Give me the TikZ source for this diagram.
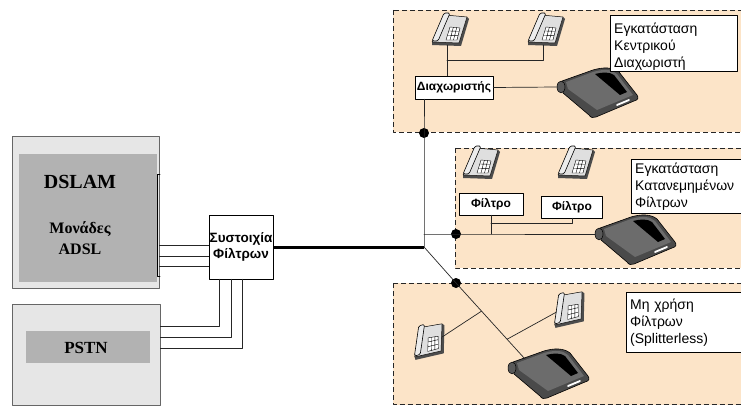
\documentclass[tikz,border=0pt]{standalone}
\usepackage{fontspec}
\setmainfont{Liberation Sans}
\newfontfamily\unitfont{Liberation Serif}
\usetikzlibrary{calc}

\definecolor{peach}{RGB}{252,228,200}
\definecolor{cabinet}{RGB}{230,230,230}
\definecolor{unitgray}{RGB}{178,178,178}
\definecolor{case}{RGB}{74,74,74}
\definecolor{casetop}{RGB}{108,108,108}

\begin{document}
\begin{tikzpicture}[x=1pt, y=-1pt, line cap=round, line join=round,
    site/.style={draw=black!85, fill=peach, dash pattern=on 5pt off 3pt, line width=0.8pt, line cap=butt},
    note/.style={draw, fill=white, anchor=north west, align=left, inner xsep=4pt, inner ysep=0.5pt, font=\fontsize{14}{17}\selectfont},
    filt/.style={draw, fill=white, font=\bfseries\fontsize{12}{15}\selectfont, inner sep=1pt, align=center},
    wire/.style={black!85, line width=0.7pt},
    trunk/.style={line width=3pt, line cap=butt},
    dot/.style={circle, fill=black, inner sep=0pt, minimum size=10pt},
    phone/.pic={
      \fill[black!70] (-17,12) -- (10,13) -- (18,-13) -- (20,-11) -- (12,16) -- (-17,15) -- cycle;
      \draw[fill=gray!25, line width=0.5pt] (-4,-15) -- (18,-13) -- (10,13) -- (-17,12) -- cycle;
      \draw[fill=white, line width=0.4pt] (1,-3) -- (11,-2) -- (8,10) -- (-3,10) -- cycle;
      \draw[line width=0.4pt] (0,1) -- (10,1.3) (-1.2,5.5) -- (8.9,5.7) (4.3,-2.7) -- (1,10) (7.7,-2.3) -- (4.5,10);
      \draw[fill=gray!15, line width=0.6pt, rounded corners=1.5pt] (-5,-17) -- (1,-17) -- (-11,11) -- (-17,11) -- cycle;
      \coordinate (-jack) at (-2,15);
      \coordinate (-east) at (14,0);
      \coordinate (-west) at (-12,0);
    },
    modem/.pic={
      \draw[fill=case, line width=0.6pt] (5,-6) -- (36,-17) .. controls (46,-20) and (56,-20) .. (62,-15) -- (80,8) .. controls (82,11) and (81,13) .. (77,14) -- (39,30) .. controls (36,31) and (34,31) .. (32,28) -- (6,6) -- cycle;
      \fill[casetop] (9,-5) -- (36,-15) .. controls (46,-18) and (55,-18) .. (60,-13) -- (76,8) -- (40,23) -- (11,2) -- cycle;
      \fill[black] (38,-13) .. controls (46,-15) and (53,-15) .. (57,-12) -- (70,5) -- (63,8) -- cycle;
      \draw[white, line width=1.8pt] (60,18) -- (72,13);
      \draw[fill=gray!70!black, line width=0.5pt] (4,0) ellipse [x radius=4, y radius=6];
      \coordinate (-jack) at (0,0);
      \coordinate (-top) at (17,-9);
    }]
  \useasboundingbox (0,0) rectangle (741,406);

  % customer sites
  \draw[site] (393,10) rectangle (750,132);
  \draw[site] (455,148) rectangle (750,268);
  \draw[site] (393,283) rectangle (750,404.5);

  % exchange side
  \node[draw=black!60, fill=cabinet, minimum width=147pt, minimum height=152pt, anchor=north west] (dslam) at (12,136) {};
  \node[fill=unitgray, minimum width=138pt, minimum height=128pt, anchor=north west] (adsl) at (19,154) {};
  \node[font=\unitfont\bfseries\fontsize{20}{24}\selectfont] (dslamtxt) at (80,181.5) {DSLAM};
  \node[font=\unitfont\bfseries\fontsize{16}{21}\selectfont, align=center] (adsltxt) at (80,238.5) {Μονάδες\\ADSL};
  \draw[line width=0.8pt] (160,174) -- (157,174) -- (157,276) -- (160,276);

  \node[draw=black!60, fill=cabinet, minimum width=148pt, minimum height=101pt, anchor=north west] (pstn) at (12,304) {};
  \node[fill=unitgray, minimum width=124pt, minimum height=32pt, anchor=north west] (pstnunit) at (26,331) {};
  \node[font=\unitfont\bfseries\fontsize{17}{20}\selectfont] (pstntxt) at (86,347.5) {PSTN};

  \node[filt, minimum width=64pt, minimum height=64pt, inner sep=0pt, font=\bfseries\fontsize{13.5}{16}\selectfont] (bank) at (241,247) {Συστοιχία\\Φίλτρων};

  \foreach \y in {245,256,266}
    \draw[wire] (dslam.east |- 0,\y) -- (bank.west |- 0,\y);
  \foreach \x/\y in {219/326, 231/337, 242/348}
    \draw[wire] (bank.south -| \x,0) |- (pstn.east |- 0,\y);

  % local loop
  \coordinate (hub) at (424,247);
  \draw[trunk] (bank.east) -- (hub);
  \node[dot] (dtop) at (424,133) {};
  \node[dot] (dmid) at (456,234) {};
  \node[dot] (dbot) at (456,283) {};

  % central splitter
  \node[filt, minimum width=78pt, minimum height=23pt] (split) at (454,87.5) {Διαχωριστής};
  \pic (tel1) at (449,30) {phone};
  \pic (tel2) at (545,30) {phone};
  \pic (box1) at (557,87) {modem};
  \coordinate (tee1) at (447,60);
  \draw[wire] (tel1-jack) -- (tel1-jack |- split.north);
  \draw[wire] (tel2-jack) |- (tee1);
  \draw[wire] (split.east) -- (box1-jack);
  \draw[wire] (hub) -- (dtop.center) -- (split.south -| dtop);
  \node[note, text width=119pt, minimum height=55pt, execute at begin node={\rule{0pt}{18pt}}] (lab1) at (610,15) {Εγκατάσταση\\Κεντρικού\\Διαχωριστή};

  % distributed filters
  \pic (tel3) at (480,163) {phone};
  \pic (tel4) at (575,163) {phone};
  \node[filt, minimum width=64pt, minimum height=22pt] (filt1) at (491,204) {Φίλτρο};
  \node[filt, minimum width=61pt, minimum height=22pt] (filt2) at (572,207) {Φίλτρο};
  \pic (box2) at (595,234) {modem};
  \coordinate (tee2) at (491,223);
  \draw[wire] (hub |- dmid) -- (dmid.center) -- (box2-jack);
  \draw[wire] (filt1.south) -- (filt1.south |- dmid);
  \draw[wire] (filt2.south) |- (tee2);
  \node[note, text width=110pt, minimum height=54pt] (lab2) at (631,159) {Εγκατάσταση\\Κατανεμημένων\\Φίλτρων};

  % splitterless
  \pic (box3) at (508,368) {modem};
  \pic[rotate=15] (tel5) at (428,341) {phone};
  \pic[rotate=15] (tel6) at (568,309) {phone};
  \coordinate (br1) at ($(dbot)!0.37!(box3-top)$);
  \coordinate (br2) at ($(dbot)!0.74!(box3-top)$);
  \draw[wire] (hub) -- (dbot.center) -- (box3-top);
  \draw[wire] (br1) -- (tel5-east);
  \draw[wire] (br2) -- (tel6-west);
  \node[note, text width=112pt, minimum height=60pt] (lab3) at (626,292) {Μη χρήση\\Φίλτρων\\(Splitterless)};
\end{tikzpicture}
\end{document}
